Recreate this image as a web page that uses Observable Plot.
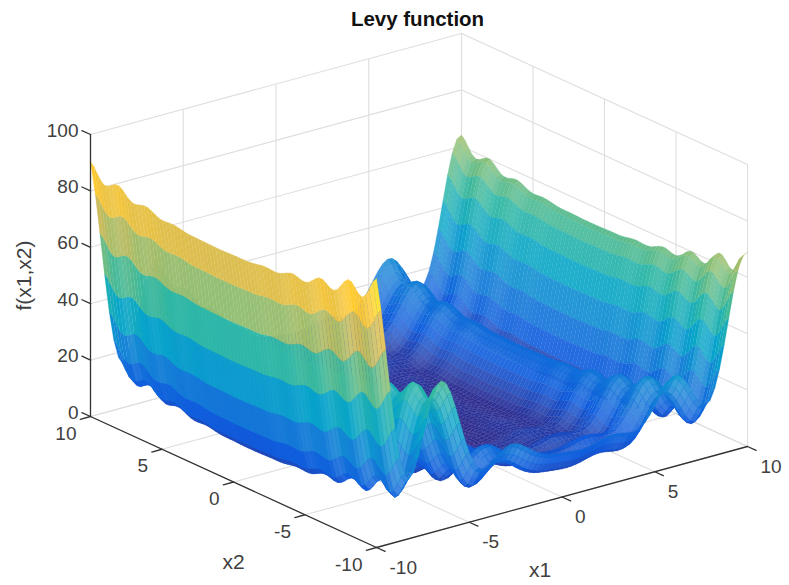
<!DOCTYPE html>
<html><head><meta charset="utf-8">
<style>html,body{margin:0;padding:0;background:#fff}svg{display:block}</style>
<script src="https://cdn.jsdelivr.net/npm/d3@7"></script>
<script src="https://cdn.jsdelivr.net/npm/@observablehq/plot@0.6"></script>
</head><body><script>
// The surface is separable, f(x1,x2) = p1(x1) + p2(x2): two edge profiles, sampled every 0.25.
const axisStep = 0.25;
const x1Profile = [80.25,68.61,54.20,39.18,25.49,14.85,8.26,6.05,7.86,12.73,19.37,26.34,32.32,36.31,37.72,36.44,32.80,27.47,21.29,15.17,9.82,5.79,3.33,2.42,2.77,3.97,5.54,7.02,8.08,8.53,8.33,7.57,6.43,5.13,3.87,2.80,1.98,1.41,1.03,.79,.59,.40,.22,.06,0,.08,.32,.70,1.16,1.61,1.94,2.07,1.98,1.70,1.36,1.16,1.32,2.02,3.41,5.47,8.08,10.95,13.67,15.82,16.98,16.89,15.49,12.99,9.82,6.67,4.32,3.55,4.95,8.84,15.12,23.25,32.32,41.14,48.40,52.93,53.89];
const x2Profile = [15.13,13.39,10.34,7.53,6.25,6.81,8.46,9.92,10.13,8.87,6.77,4.88,4.00,4.30,5.27,6.09,6.13,5.28,3.96,2.80,2.25,2.37,2.84,3.19,3.13,2.61,1.90,1.29,1.00,1.01,1.15,1.22,1.13,.88,.59,.36,.25,.22,.21,.18,.13,.07,.02,0,0,0,.02,.07,.13,.18,.21,.22,.25,.36,.59,.88,1.13,1.22,1.15,1.01,1.00,1.29,1.90,2.61,3.13,3.19,2.84,2.37,2.25,2.80,3.96,5.28,6.13,6.09,5.27,4.30,4.00,4.88,6.77,8.87,10.13];
const xTicks = [-10,-5,0,5,10];
const zTicks = [0,20,40,60,80,100];
const parula = ["#352a87","#0f5cdd","#1481d6","#06a4ca","#2eb7a4","#87bf77","#d1bb59","#fec832","#f9fb0e"];
const zMax = 95.4;
const colorStops = parula.map((_, i) => i / (parula.length - 1) * zMax);

// Oblique view of the box
const P = (a, b, c) => ({
  px: 376 + (a + 10) * 18.55 - (b + 10) * 14.3,
  py: 547 - (a + 10) * 5.05 - (b + 10) * 6.55 - c * 2.82
});
const tint = d3.scaleLinear().domain(colorStops).range(parula);
const lineW = 1.3;                // effective width of the dense mesh wire
const density = 0.1 / axisStep;   // fine wire spacing relative to a sampled cell

// far cells first, so nearer cells cover them
const cells = [];
const n = x1Profile.length;
for (let i = n - 2; i >= 0; i--) for (let j = n - 2; j >= 0; j--) {
  const corner = [[i,j],[i+1,j],[i+1,j+1],[i,j+1],[i,j]].map(([a,b]) => {
    const c = x1Profile[a] + x2Profile[b];
    return {...P(-10 + a*axisStep, -10 + b*axisStep, c), c};
  });
  const z = d3.mean(corner.slice(0,4), d => d.c);
  const e1 = [corner[1].px-corner[0].px, corner[1].py-corner[0].py];
  const e2 = [corner[3].px-corner[0].px, corner[3].py-corner[0].py];
  const area = Math.abs(e1[0]*e2[1]-e1[1]*e2[0]);
  const d1 = density*area/Math.hypot(...e1), d2 = density*area/Math.hypot(...e2);
  const white = 0.75*Math.max(0,1-lineW/d1)*Math.max(0,1-lineW/d2);
  const fill = d3.interpolateRgb(tint(z), "#ffffff")(white);
  const id = i*n + j;
  for (const p of corner) cells.push({px:p.px, py:p.py, id, z, fill});
}

const gridSegs = [], axisSegs = [], id0 = {v:0};
const addSeg = (arr, a, b) => { const id = id0.v++; arr.push({...a,id},{...b,id}); };
for (const t of xTicks) {
  addSeg(gridSegs, P(t,-10,0), P(t,10,0));
  addSeg(gridSegs, P(t,10,0), P(t,10,100));
  addSeg(gridSegs, P(-10,t,0), P(10,t,0));
  addSeg(gridSegs, P(10,t,0), P(10,t,100));
  addSeg(axisSegs, P(t,-10,0), P(t,-10.6,0));
  addSeg(axisSegs, P(-10,t,0), P(-10.55,t,0));
}
for (const z of zTicks) {
  addSeg(gridSegs, P(-10,10,z), P(10,10,z));
  addSeg(gridSegs, P(10,10,z), P(10,-10,z));
  addSeg(axisSegs, P(-10,10,z), P(-10,10.6,z));
}
addSeg(axisSegs, P(-10,10,0), P(-10,10,100));
addSeg(axisSegs, P(-10,10,0), P(-10,-10,0));
addSeg(axisSegs, P(-10,-10,0), P(10,-10,0));

const font = {fontFamily:"Liberation Sans, Arial, sans-serif", fill:"#404040"};
const chart = Plot.plot({
  width:789, height:585, margin:0,
  x:{domain:[0,789], range:[0,789], axis:null},
  y:{domain:[0,585], range:[0,585], axis:null},
  color:{type:"linear", domain:colorStops, range:parula},
  style:{background:"#fff"},
  marks:[
    Plot.line(gridSegs,{x:"px",y:"py",z:"id",stroke:"#dedede",strokeWidth:1.1}),
    Plot.line(cells,{x:"px",y:"py",z:"id",stroke:"z",fill:"fill",strokeWidth:0.25}),
    Plot.line(axisSegs,{x:"px",y:"py",z:"id",stroke:"#333",strokeWidth:1.3}),
    Plot.text(zTicks,{x:d=>P(-10,10,d).px,y:d=>P(-10,10,d).py,text:d=>String(d),textAnchor:"end",dx:-12,dy:-4,fontSize:19,...font}),
    Plot.text(xTicks,{x:d=>P(-10,d,0).px,y:d=>P(-10,d,0).py,text:d=>String(d),textAnchor:"end",dx:-14,dy:17,fontSize:19,...font}),
    Plot.text(xTicks,{x:d=>P(d,-10,0).px,y:d=>P(d,-10,0).py,text:d=>String(d),textAnchor:"start",dx:13,dy:20,fontSize:19,...font}),
    Plot.text(["x1"],{x:()=>P(0,-10,0).px,y:()=>P(0,-10,0).py,text:d=>d,dx:-22,dy:73,fontSize:21,...font}),
    Plot.text(["x2"],{x:()=>P(-10,0,0).px,y:()=>P(-10,0,0).py,text:d=>d,dy:80,fontSize:21,...font}),
    Plot.text(["f(x1,x2)"],{x:()=>P(-10,10,50).px,y:()=>P(-10,10,50).py,text:d=>d,dx:-66,dy:0,rotate:-90,fontSize:21,...font}),
    Plot.text(["Levy function"],{x:()=>P(10,10,100).px,y:()=>P(10,10,100).py,text:d=>d,dx:-44,dy:-14,fontSize:20.5,fontWeight:"bold",fontFamily:font.fontFamily,fill:"#111"})
  ]
});
document.body.appendChild(chart);
</script></body></html>
